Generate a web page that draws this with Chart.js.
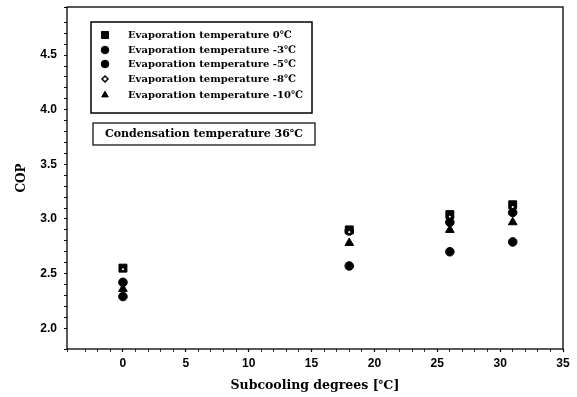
<!DOCTYPE html>
<html>
<head>
<meta charset="utf-8">
<script src="https://cdn.jsdelivr.net/npm/chart.js@4"></script>
<style>
  html, body { margin: 0; padding: 0; background: #fff; }
  #wrap { width: 577px; height: 397px; }
</style>
</head>
<body>
<div id="wrap"><canvas id="chart"></canvas></div>
<script>
const subcooling = [0, 18, 26, 31]
const seriesLabels = [
  'Evaporation temperature 0℃',
  'Evaporation temperature -3℃',
  'Evaporation temperature -5℃',
  'Evaporation temperature -8℃',
  'Evaporation temperature -10℃'
]
const copEvap0 = [2.55, 2.90, 3.04, 3.13]
const copEvapM3 = [2.42, 2.89, 2.97, 3.06]
const copEvapM5 = [2.29, 2.57, 2.70, 2.79]
const copEvapM8 = [2.54, 2.88, 3.02, 3.11]
const copEvapM10 = [2.36, 2.78, 2.90, 2.97]
const noteText = 'Condensation temperature 36℃'

const toPoints = ys => ys.map((y, i) => ({ x: subcooling[i], y: y }))

const styles = [
  { pointStyle: 'rect', radius: 5.6, bg: '#000', order: 2 },
  { pointStyle: 'circle', radius: 4.3, bg: '#000', order: 3 },
  { pointStyle: 'circle', radius: 4.3, bg: '#000', order: 4 },
  { pointStyle: 'rectRot', radius: 2.2, bg: '#fff', order: 1 },
  { pointStyle: 'triangle', radius: 5, bg: '#000', order: 5 }
]
const allSeries = [copEvap0, copEvapM3, copEvapM5, copEvapM8, copEvapM10]

const frame = {
  id: 'frame',
  afterDraw (chart) {
    const { ctx, chartArea: a } = chart
    ctx.save()
    ctx.strokeStyle = '#000'
    ctx.lineWidth = 1.3
    ctx.strokeRect(a.left, a.top, a.right - a.left, a.bottom - a.top)

    // legend box
    const bx = a.left + 24
    const by = a.top + 15
    ctx.lineWidth = 1.5
    ctx.strokeRect(bx, by, 221, 91)
    const rows = [13, 28, 42, 57, 73]
    ctx.font = 'bold 10px "DejaVu Serif"'
    ctx.textBaseline = 'middle'
    ctx.textAlign = 'left'
    chart.data.datasets.forEach((ds, i) => {
      const st = styles[i]
      ctx.fillStyle = st.pointStyle === 'rectRot' ? '#fff' : '#000'
      ctx.strokeStyle = '#000'
      ctx.lineWidth = st.pointStyle === 'rectRot' ? 1.5 : 1
      Chart.helpers.drawPoint(ctx, {
        pointStyle: st.pointStyle,
        radius: st.pointStyle === 'rectRot' ? 3 : (st.pointStyle === 'rect' ? 5 : 3.8),
        rotation: 0,
        borderWidth: ctx.lineWidth
      }, bx + 14, by + rows[i])
      ctx.fillStyle = '#000'
      ctx.fillText(ds.label, bx + 37, by + rows[i])
    })

    // condensation note box
    const nx = a.left + 26
    const ny = a.top + 116
    ctx.lineWidth = 1.2
    ctx.strokeRect(nx, ny, 222, 22)
    ctx.font = 'bold 11px "DejaVu Serif"'
    ctx.textAlign = 'center'
    ctx.fillText(noteText, nx + 111, ny + 11)
    ctx.restore()
  }
}

new Chart(document.getElementById('chart'), {
  type: 'scatter',
  data: {
    datasets: allSeries.map((ys, i) => ({
      label: seriesLabels[i],
      data: toPoints(ys),
      pointStyle: styles[i].pointStyle,
      pointRadius: styles[i].radius,
      pointHoverRadius: styles[i].radius,
      backgroundColor: styles[i].bg,
      borderColor: '#000',
      borderWidth: styles[i].bg === '#fff' ? 1.2 : 1,
      order: styles[i].order
    }))
  },
  options: {
    responsive: true,
    maintainAspectRatio: false,
    animation: false,
    layout: { padding: { top: 7, right: 14, left: 0, bottom: 0 } },
    plugins: {
      legend: { display: false },
      tooltip: { enabled: false }
    },
    scales: {
      x: {
        type: 'linear',
        min: -4.45,
        max: 35,
        afterFit (scale) { scale.height = 48 },
        border: { display: false },
        grid: {
          drawOnChartArea: false,
          tickLength: 3,
          color: '#000',
          tickWidth: ctx => (ctx.tick && ctx.tick.value % 5 === 0 ? 1.2 : 0.8)
        },
        ticks: {
          stepSize: 1,
          autoSkip: false,
          maxRotation: 0,
          color: '#000',
          padding: 4,
          font: { family: '"Liberation Sans"', size: 12, weight: 'bold' },
          callback: v => (v % 5 === 0 ? String(v) : '')
        },
        title: {
          display: true,
          text: 'Subcooling degrees [℃]',
          color: '#000',
          padding: { top: 0, bottom: 4 },
          font: { family: '"DejaVu Serif"', size: 12.5, weight: 'bold' }
        }
      },
      y: {
        min: 1.81,
        max: 4.94,
        afterFit (scale) {
          scale.width = 67
          scale.paddingTop = 0
          scale.paddingBottom = 0
        },
        border: { display: false },
        grid: {
          drawOnChartArea: false,
          tickLength: 3,
          color: '#000',
          tickWidth: 1
        },
        ticks: {
          stepSize: 0.1,
          autoSkip: false,
          color: '#000',
          padding: 7,
          font: { family: '"Liberation Sans"', size: 12, weight: 'bold' },
          callback: v => (Math.abs(v * 2 - Math.round(v * 2)) < 1e-6 ? v.toFixed(1) : '')
        },
        title: {
          display: true,
          text: 'COP',
          color: '#000',
          padding: { top: 15, bottom: 0 },
          font: { family: '"DejaVu Serif"', size: 12, weight: 'bold' }
        }
      }
    }
  },
  plugins: [frame]
})
</script>
</body>
</html>
